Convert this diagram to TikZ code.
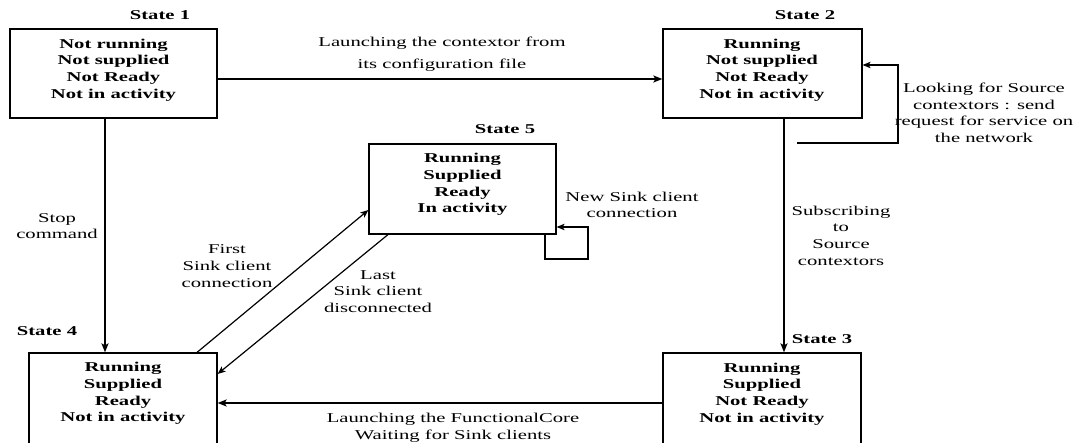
\documentclass[tikz,border=0pt]{standalone}
\usepackage{fontspec}
\setmainfont{Liberation Serif}[FakeStretch=1.53]
\usetikzlibrary{arrows.meta,calc}
\begin{document}
\begin{tikzpicture}[x=1pt,y=-1pt,
  statebox/.style={draw, line width=1.2pt, inner sep=0pt, rectangle},
  boxtxt/.style={font=\fontsize{13.5}{16.7}\selectfont\bfseries, align=center, inner sep=0pt},
  title/.style={font=\fontsize{13.5}{16}\selectfont\bfseries, inner sep=0pt},
  lbl/.style={font=\fontsize{13.5}{16.7}\selectfont, align=center, inner sep=0pt},
  thickarr/.style={line width=2pt, -{Stealth[length=9pt,width=7pt,inset=2pt]}},
  thinarr/.style={line width=1.2pt, -{Stealth[length=8pt,width=6.5pt,inset=2pt]}},
  looparr/.style={line width=1.1pt, -{Stealth[length=8pt,width=6.5pt,inset=2pt]}}
]
\useasboundingbox (0,0) rectangle (1092,443);

% state boxes
\node[statebox, minimum width=207pt, minimum height=89pt] (s1) at (113.5,73.5) {};
\node[statebox, minimum width=199pt, minimum height=89pt] (s2) at (762.5,73.5) {};
\node[statebox, minimum width=198pt, minimum height=92pt] (s3) at (762,399) {};
\node[statebox, minimum width=188pt, minimum height=92pt] (s4) at (123,399) {};
\node[statebox, minimum width=187pt, minimum height=90pt] (s5) at (462.5,189) {};

% box texts
\node[boxtxt] (t1) at (113.5,70) {Not running\\Not supplied\\Not Ready\\Not in activity};
\node[boxtxt] (t2) at (762,70) {Running\\Not supplied\\Not Ready\\Not in activity};
\node[boxtxt] (t3) at (762,394) {Running\\Supplied\\Not Ready\\Not in activity};
\node[boxtxt] (t4) at (123,393.5) {Running\\Supplied\\Ready\\Not in activity};
\node[boxtxt] (t5) at (462.5,184.5) {Running\\Supplied\\Ready\\In activity};

% titles
\node[title] (n1) at (160,15) {State 1};
\node[title] (n2) at (805,15) {State 2};
\node[title] (n3) at (822,339) {State 3};
\node[title] (n4) at (47,331) {State 4};
\node[title] (n5) at (505,129) {State 5};

% connectors
\draw[thickarr] ([yshift=-5.5pt]s1.east) -- ([yshift=-5.5pt]s2.west);
\coordinate (c14) at ([xshift=-8.5pt]s1.south);
\draw[thickarr] (c14) -- (c14 |- s4.north);
\coordinate (c23) at ([xshift=21.5pt]s2.south);
\draw[thickarr] (c23) -- (c23 |- s3.north);
\coordinate (c34) at ([yshift=-4pt]s3.west);
\draw[thickarr] (c34) -- (c34 -| s4.east);
\draw[thinarr] ([xshift=74pt]s4.north) -- ([yshift=-21pt]s5.west);
\draw[thinarr] ([xshift=-74.5pt]s5.south) -- ([yshift=25pt]s4.east);

% self loops
\coordinate (l2a) at (797,143);
\coordinate (l2b) at (898,65);
\draw[looparr] (l2a) -| (l2b) -- ([yshift=8.5pt]s2.east);
\coordinate (l5) at (588,259);
\draw[looparr] ([xshift=82.5pt]s5.south) |- (l5) |- ([yshift=-38pt]s5.east);

% labels
\node[lbl, font=\fontsize{13.5}{22}\selectfont] (lab12) at (442,54) {Launching the contextor from\\its configuration file};
\node[lbl] (lab14) at (57,226) {Stop\\command};
\node[lbl] (lab23) at (841,235.5) {Subscribing\\to\\Source\\contextors};
\node[lbl, font=\fontsize{13.5}{16.5}\selectfont] (lab2l) at (984,113) {Looking for Source\\contextors : send\\request for service on\\the network};
\node[lbl] (lab45) at (227,266) {First\\Sink client\\connection};
\node[lbl] (lab54) at (378,291.5) {Last\\Sink client\\disconnected};
\node[lbl, font=\fontsize{13.5}{17.5}\selectfont] (lab34) at (453,428) {Launching the FunctionalCore\\Waiting for Sink clients};
\node[lbl] (lab5l) at (632,205) {New Sink client\\connection};
\end{tikzpicture}
\end{document}
